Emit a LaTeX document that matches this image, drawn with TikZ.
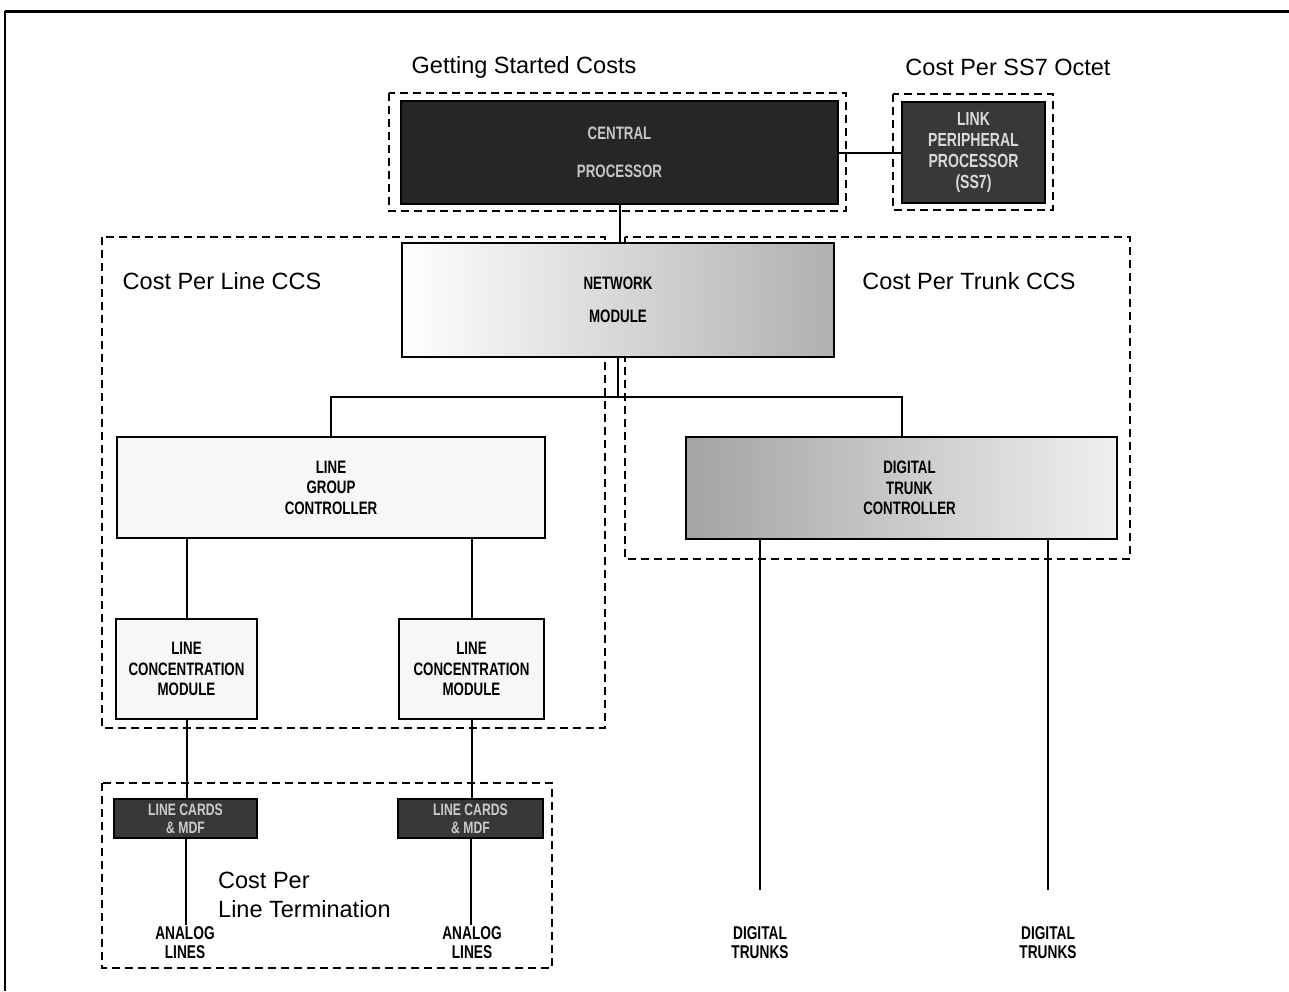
\documentclass[tikz,border=0pt]{standalone}
\usepackage{fontspec}
\setmainfont{Liberation Sans}
\newfontfamily\boxf[FakeStretch=0.74]{Liberation Sans}
\begin{document}
\begin{tikzpicture}[x=1pt,y=-1pt,
  blk/.style={draw=black, line width=2.2pt, inner sep=0pt, align=center,
    font=\boxf\bfseries\fontsize{18}{20.5}\selectfont},
  grp/.style={draw=black, dash pattern=on 8pt off 5pt, line width=1.6pt},
  conn/.style={draw=black, line width=2pt},
  ttl/.style={inner sep=0pt, font=\fontsize{23.5}{29}\selectfont},
  lbl/.style={inner sep=2pt, align=center, font=\boxf\bfseries\fontsize{18.5}{19}\selectfont}]
\useasboundingbox (0,0) rectangle (1289,991);
% outer frame (open at right and bottom)
\draw[line width=3pt] (5,11) -- (1289,11);
\draw[line width=1.8pt] (5,11) -- (5,991);

% group (cost) boxes
\draw[grp] (389,93) rectangle (846,211);
\draw[grp] (893,94) rectangle (1053,210);
\draw[grp] (102,237) rectangle (605,728);
\draw[grp] (625,237) rectangle (1130,559);
\draw[grp] (102,783) rectangle (552,968);

% group titles
\node[ttl] (tgs) at (524,67) {Getting Started Costs};
\node[ttl] (tss7) at (1008,67) {Cost Per SS7 Octet};
\node[ttl] (tline) at (222,281) {Cost Per Line CCS};
\node[ttl] (ttrunk) at (969,281) {Cost Per Trunk CCS};
\node[ttl, anchor=west, align=left] (tterm) at (218,895) {Cost Per\\Line Termination};

% equipment boxes
\node[blk, minimum width=437pt, minimum height=103pt, fill=black!85, text=gray!45]
  (cp) at (619.5,152.5) {CENTRAL\\[17pt]PROCESSOR};
\node[blk, minimum width=143pt, minimum height=101pt, fill=black!78, text=white!85!black,
  font=\boxf\bfseries\fontsize{19}{21}\selectfont]
  (lpp) at (973.5,152.5) {LINK\\PERIPHERAL\\PROCESSOR\\(SS7)};
\node[blk, minimum width=432pt, minimum height=114pt,
  left color=white, middle color=gray!22, right color=gray!62]
  (nm) at (618,300) {NETWORK\\[12pt]MODULE};
\node[blk, minimum width=428pt, minimum height=101pt, fill=gray!6]
  (lgc) at (331,487.5) {LINE\\GROUP\\CONTROLLER};
\node[blk, minimum width=431pt, minimum height=102pt,
  left color=gray!72, middle color=gray!50, right color=gray!12]
  (dtc) at (901.5,488) {\hspace*{16pt}DIGITAL\\\hspace*{16pt}TRUNK\\\hspace*{16pt}CONTROLLER};
\node[blk, minimum width=141pt, minimum height=100pt, fill=gray!6]
  (lcm1) at (186.5,669) {LINE\\CONCENTRATION\\MODULE};
\node[blk, minimum width=145pt, minimum height=100pt, fill=gray!6]
  (lcm2) at (471.5,669) {LINE\\CONCENTRATION\\MODULE};
\node[blk, minimum width=143pt, minimum height=39pt, fill=black!78, text=white!80!black,
  font=\boxf\bfseries\fontsize{16.5}{18}\selectfont]
  (lc1) at (185.5,818.5) {LINE CARDS\\\& MDF};
\node[blk, minimum width=145pt, minimum height=39pt, fill=black!78, text=white!80!black,
  font=\boxf\bfseries\fontsize{16.5}{18}\selectfont]
  (lc2) at (470.5,818.5) {LINE CARDS\\\& MDF};

% end labels
\node[lbl] (an1) at (185,943) {ANALOG\\LINES};
\node[lbl] (an2) at (472,943) {ANALOG\\LINES};
\node[lbl] (dt1) at (760,943) {DIGITAL\\TRUNKS};
\node[lbl] (dt2) at (1048,943) {DIGITAL\\TRUNKS};
\coordinate (dt1e) at (760,890);
\coordinate (dt2e) at (1048,890);
\coordinate (bus) at (618,397);

% connectors
\draw[conn] (cp.east) -- (lpp.west);
\draw[conn] (cp.south) -- (cp.south |- nm.north);
\draw[conn] (nm.south) -- (bus);
\draw[conn] (lgc.north) |- (bus) -| (dtc.north);
\draw[conn] (lcm1.north) -- (lcm1.north |- lgc.south);
\draw[conn] (lcm2.north) -- (lcm2.north |- lgc.south);
\draw[conn] (lcm1.south) -- (lcm1.south |- lc1.north);
\draw[conn] (lcm2.south) -- (lcm2.south |- lc2.north);
\draw[conn] (lc1.south) -- (lc1.south |- an1.north);
\draw[conn] (lc2.south) -- (lc2.south |- an2.north);
\draw[conn] (dt1e |- dtc.south) -- (dt1e);
\draw[conn] (dt2e |- dtc.south) -- (dt2e);
\end{tikzpicture}
\end{document}
